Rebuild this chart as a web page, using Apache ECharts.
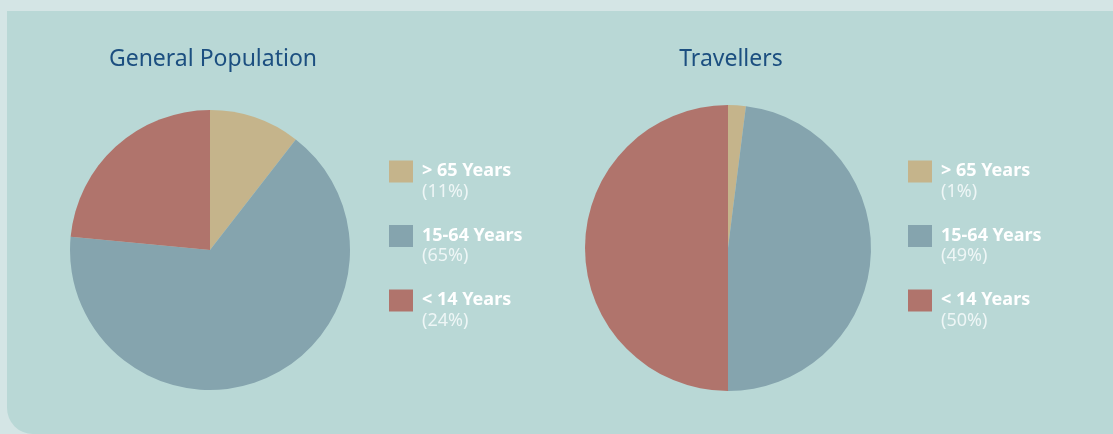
<!DOCTYPE html>
<html>
<head>
<meta charset="utf-8">
<script src="https://cdn.jsdelivr.net/npm/echarts@6/dist/echarts.min.js"></script>
<style>
    * { margin: 0; padding: 0; }
    body { background: #d4e5e5; width: 1113px; height: 434px; overflow: hidden; position: relative; }
    #panel { position: absolute; left: 7px; top: 11px; right: 0; bottom: 0; background: #b9d8d6; border-bottom-left-radius: 26px; }
    #chart { position: absolute; left: 0; top: 0; width: 1113px; height: 434px; }
</style>
</head>
<body>
<div id="panel"></div>
<div id="chart"></div>
<script>
    // data
    var ageGroups = ['> 65 Years', '15-64 Years', '< 14 Years'];
    var generalValues = [10.5, 66, 23.5];
    var travellerValues = [2, 48, 50];
    // percentages printed under each legend entry
    var generalLabels = ['11%', '65%', '24%'];
    var travellerLabels = ['1%', '49%', '50%'];
    var colors = ['#c5b48b', '#85a4ae', '#b0746c'];

    var legendFont = "'Noto Sans', sans-serif";

    function toData(values) {
        return ageGroups.map(function (name, i) { return { name: name, value: values[i] }; });
    }

    function legendFor(seriesIdx, left, pcts) {
        return {
            seriesIndex: seriesIdx,
            orient: 'vertical',
            left: left,
            top: 146,
            padding: 0,
            itemWidth: 24,
            itemHeight: 22,
            itemGap: 10,
            icon: 'rect',
            selectedMode: false,
            data: ageGroups,
            formatter: function (name) {
                return '{s| }\n{a|' + name + '}\n{b|(' + pcts[ageGroups.indexOf(name)] + ')}';
            },
            textStyle: {
                padding: [0, 0, 0, 4],
                rich: {
                    s: { fontSize: 10, lineHeight: 18 },
                    a: { fontFamily: legendFont, fontWeight: 'bold', fontSize: 18, color: '#ffffff', lineHeight: 22 },
                    b: { fontFamily: legendFont, fontSize: 18, color: '#eef6f6', lineHeight: 19 }
                }
            }
        };
    }

    var option = {
        animation: false,
        color: colors,
        title: [
            { text: 'General Population', left: 213, top: 48, padding: 0, textAlign: 'center',
              textStyle: { fontFamily: 'Noto Sans', fontWeight: 'normal', fontSize: 23, color: '#1c4f80' } },
            { text: 'Travellers', left: 731, top: 48, padding: 0, textAlign: 'center',
              textStyle: { fontFamily: 'Noto Sans', fontWeight: 'normal', fontSize: 23, color: '#1c4f80' } }
        ],
        legend: [
            legendFor(0, 389, generalLabels),
            legendFor(1, 908, travellerLabels)
        ],
        series: [
            {
                name: 'General Population',
                type: 'pie',
                center: [210, 250],
                radius: 140,
                startAngle: 90,
                clockwise: true,
                label: { show: false },
                labelLine: { show: false },
                emphasis: { disabled: true },
                data: toData(generalValues)
            },
            {
                name: 'Travellers',
                type: 'pie',
                center: [728, 248],
                radius: 143,
                startAngle: 90,
                clockwise: true,
                label: { show: false },
                labelLine: { show: false },
                emphasis: { disabled: true },
                data: toData(travellerValues)
            }
        ]
    };

    var myChart = echarts.init(document.getElementById('chart'));
    myChart.setOption(option);
</script>
</body>
</html>
